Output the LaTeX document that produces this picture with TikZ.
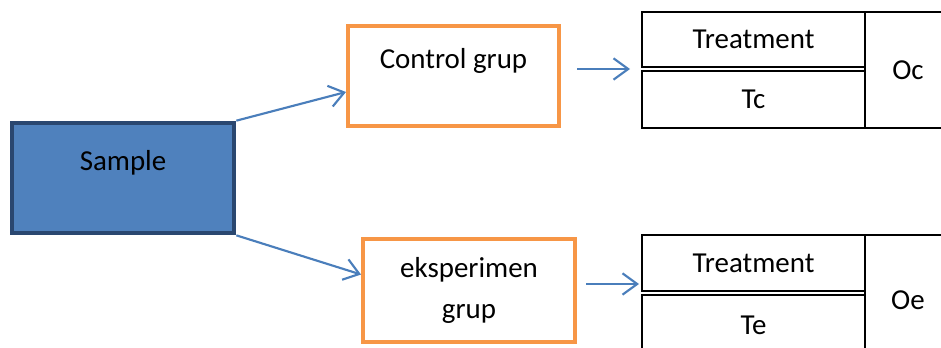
\documentclass[tikz,border=0pt]{standalone}
\usepackage{fontspec}
\setmainfont{Carlito}
\usetikzlibrary{arrows.meta}
\definecolor{samplefill}{HTML}{4F81BD}
\definecolor{sampleline}{HTML}{2A4770}
\definecolor{grupline}{HTML}{F79646}
\definecolor{arrowblue}{HTML}{4A7EBB}
\tikzset{
 samplebox/.style={draw=sampleline, fill=samplefill, line width=3.5pt, inner sep=0pt,
   minimum width=166.5pt, minimum height=82.5pt},
 grupbox/.style={draw=grupline, line width=3pt, inner sep=0pt, align=center},
 toptext/.style={text height=15pt, text depth=26pt},
 cell/.style={draw=black, line width=0.9pt, inner sep=0pt, minimum width=167.25pt},
 obscell/.style={draw=black, line width=1.5pt, inner sep=0pt, minimum width=64.5pt},
 arr/.style={draw=arrowblue, line width=1.6pt, -{Straight Barb[length=11pt,width=16pt,line width=1.6pt]}}
}

\begin{document}
\begin{tikzpicture}[x=0.75pt, y=-0.75pt, font=\fontsize{21.7pt}{30.75pt}\selectfont]
 \useasboundingbox (0,0) rectangle (941,347);
 \clip (0,0) rectangle (941,347);
 % groups
 \node[samplebox, toptext] (sample) at (123,178) {Sample};
 \node[grupbox, toptext, minimum width=158.25pt, minimum height=75pt] (control) at (453.5,76) {Control grup};
 \node[grupbox, minimum width=159pt, minimum height=77.25pt] (eksperimen) at (469,290.5) {eksperimen\\grup};
 % control table
 \node[cell, minimum height=41.25pt] (treatC) at (753.5,39.5) {Treatment};
 \node[cell, minimum height=42.75pt] (tc) at (753.5,99.5) {Tc};
 \node[obscell, minimum height=87pt] (oc) at (908,70) {Oc};
 % eksperimen table
 \node[cell, minimum height=42pt] (treatE) at (753.5,263) {Treatment};
 \node[cell, minimum height=45pt] (te) at (753.5,325) {Te};
 \node[obscell, minimum height=97.5pt] (oe) at (908,300) {Oe};
 % arrows
 \draw[arr] (sample.north east) -- ([yshift=-12pt]control.west);
 \draw[arr] (sample.south east) -- ([yshift=12pt]eksperimen.west);
 \draw[arr] ([shift={(16,-7)}]control.east) -- ++(53,0);
 \draw[arr] ([shift={(9,-6.5)}]eksperimen.east) -- ++(53,0);
\end{tikzpicture}
\end{document}
